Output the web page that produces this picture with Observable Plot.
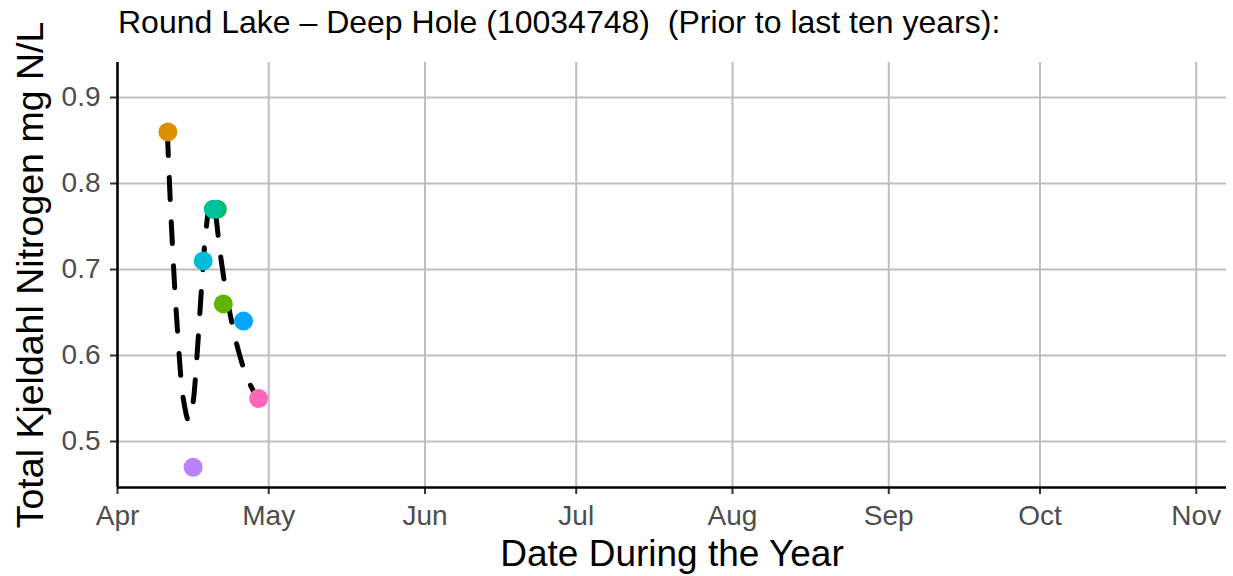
<!DOCTYPE html>
<html><head><meta charset="utf-8">
<script src="https://cdn.jsdelivr.net/npm/d3@7"></script>
<script src="https://cdn.jsdelivr.net/npm/@observablehq/plot@0.6"></script>
<style>
body{margin:0;background:#fff;}
#wrap{position:relative;width:1233px;height:576px;overflow:hidden;}
#title{position:absolute;left:118px;top:6px;font-family:"Liberation Sans",Arial,sans-serif;font-size:32px;line-height:32px;color:#000;white-space:pre;}
#chart{position:absolute;left:0;top:0;}
g[aria-label="y-axis tick label"] text, g[aria-label="x-axis tick label"] text{fill:#4D4D4D;}
</style></head>
<body>
<div id="wrap"><div id="chart"></div><div id="title">Round Lake – Deep Hole (10034748)  (Prior to last ten years):</div></div>
<script>
// Sample dates (day of April) and TKN values
const sampleDay = [11, 16, 18, 20.8, 20, 22, 26, 29];
const sampleValue = [0.86, 0.47, 0.71, 0.77, 0.77, 0.66, 0.64, 0.55];
const sampleColor = ["#DB8E00", "#B983FF", "#00BCD8", "#00BD5C", "#00C19A", "#64B200", "#00A5FF", "#FF66B8"];

// Dashed smoothed trend (day of April, fractional) and values
const smoothDays = [10.9, 11.7, 12.7, 14.1, 15.1, 15.9, 16.7, 17.7, 18.6, 19.5, 20.3, 21.3, 22.7, 24.7, 26.7, 28.6];
const smoothVals = [0.858, 0.751, 0.6465, 0.548, 0.5244, 0.542, 0.594, 0.681, 0.748, 0.7826, 0.769, 0.722, 0.668, 0.612, 0.574, 0.552];

const monthTicks = ["2021-04-01","2021-05-01","2021-06-01","2021-07-01","2021-08-01","2021-09-01","2021-10-01","2021-11-01"];
const monthLabels = ["Apr","May","Jun","Jul","Aug","Sep","Oct","Nov"];
const yTicks = [0.5, 0.6, 0.7, 0.8, 0.9];

const aprilStart = Date.UTC(2021, 3, 1);
const aprDate = d => new Date(aprilStart + (d - 1) * 864e5);

const points = sampleDay.map((d, i) => ({date: aprDate(d), value: sampleValue[i], color: sampleColor[i]}));
const smooth = smoothDays.map((d, i) => ({date: aprDate(d), value: smoothVals[i]}));
const tickDates = monthTicks.map(s => new Date(s + "T00:00:00Z"));
const xDomain = [new Date("2021-04-01T00:00:00Z"), new Date("2021-11-07T00:00:00Z")];
const yDomain = [0.4465, 0.9407];

const font = '"Liberation Sans", Arial, sans-serif';

const chart = Plot.plot({
  width: 1233,
  height: 576,
  marginLeft: 117,
  marginRight: 7,
  marginTop: 62,
  marginBottom: 89,
  style: {fontFamily: font, background: "#fff", color: "#000"},
  x: {type: "utc", domain: xDomain},
  y: {domain: yDomain},
  marks: [
    Plot.gridX(tickDates, {stroke: "#BEBEBE", strokeOpacity: 1, strokeWidth: 2}),
    Plot.gridY(yTicks, {stroke: "#BEBEBE", strokeOpacity: 1, strokeWidth: 2}),
    Plot.axisX({ticks: tickDates, tickFormat: (d, i) => monthLabels[i], tickSize: 7, tickPadding: 11, fontSize: 28, stroke: "#333", strokeWidth: 2, label: null}),
    Plot.axisY({ticks: yTicks, tickFormat: d3.format(".1f"), tickSize: 7, tickPadding: 10, fontSize: 28, stroke: "#333", strokeWidth: 2, label: null}),
    Plot.ruleX([xDomain[0]], {stroke: "#000", strokeWidth: 2.5}),
    Plot.ruleY([yDomain[0]], {stroke: "#000", strokeWidth: 2.5}),
    Plot.line(smooth, {x: "date", y: "value", stroke: "#000", strokeWidth: 5, strokeDasharray: "22,22", curve: "catmull-rom"}),
    Plot.dot(points, {x: "date", y: "value", fill: "color", r: 9.5, stroke: null}),
    Plot.text(["Total Kjeldahl Nitrogen mg N/L"], {text: d => d, frameAnchor: "left", dx: -87, rotate: -90, textAnchor: "middle", lineAnchor: "middle", fontSize: 37.5, fill: "#000"}),
    Plot.text(["Date During the Year"], {text: d => d, frameAnchor: "bottom", dy: 67, textAnchor: "middle", lineAnchor: "middle", fontSize: 37, fill: "#000"})
  ]
});
document.getElementById("chart").appendChild(chart);
</script>
</body></html>
